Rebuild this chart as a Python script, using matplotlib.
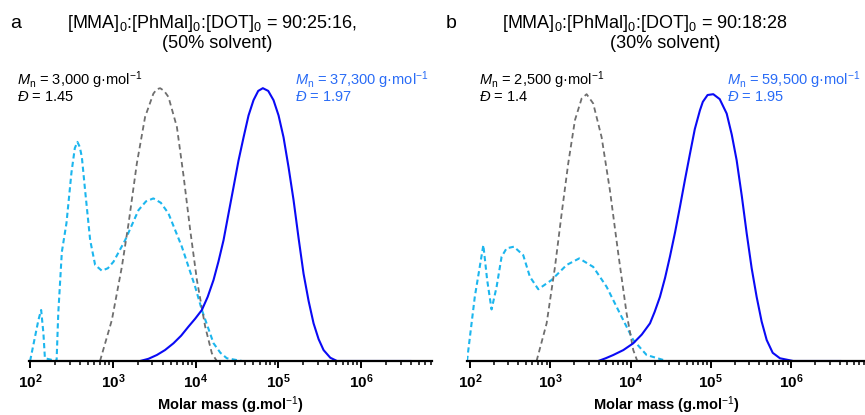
import matplotlib
matplotlib.use('Agg')
import matplotlib.pyplot as plt
from matplotlib.ticker import LogLocator, FixedLocator, FixedFormatter, NullFormatter

plt.rcParams['font.family'] = ['Liberation Sans', 'DejaVu Sans']
plt.rcParams['mathtext.fontset'] = 'custom'
plt.rcParams['mathtext.rm'] = 'Liberation Sans'
plt.rcParams['mathtext.it'] = 'Liberation Sans:italic'
plt.rcParams['mathtext.bf'] = 'Liberation Sans:bold'

# panel a (molar mass in g/mol, normalised signal)
a_cyan_m = [100, 126, 136, 145, 151, 209, 219, 242, 275, 316, 347, 373, 398, 422, 462,
            532, 611, 736, 871, 1019, 1409, 2042, 2512, 3090, 3802, 4699, 6823, 9886,
            11912, 16482, 19953, 23878, 36308]
a_cyan_h = [0, 0.15, 0.187, 0.10, 0.01, 0, 0.175, 0.40, 0.505, 0.69, 0.78, 0.803, 0.785, 0.748, 0.626,
            0.443, 0.352, 0.331, 0.34, 0.364, 0.443, 0.553, 0.585, 0.596, 0.58, 0.541, 0.419, 0.272,
            0.187, 0.065, 0.03, 0.01, 0]
a_gray_m = [700, 973, 1285, 1549, 1950, 2455, 3090, 3388, 3733, 4169, 4699, 5943, 7145, 8610,
            10375, 13062, 15740, 18072, 28184]
a_gray_h = [0, 0.15, 0.345, 0.504, 0.724, 0.895, 0.98, 0.996, 1.0, 0.99, 0.968, 0.858, 0.68, 0.48,
            0.297, 0.126, 0.028, 0, 0]
a_blue_m = [2138, 2692, 3404, 4266, 5408, 6699, 8204, 9886, 11912, 14000,
            16482, 18920, 21777, 25000, 28774, 33040, 38019, 43650, 50119, 57150,
            65013, 75510, 87498, 100700, 115611, 133000, 152757, 175800, 201837, 232300,
            266686, 306900, 352371, 424600, 511682, 3935501]
a_blue_h = [0, 0.008, 0.022, 0.04, 0.065, 0.093, 0.126, 0.155, 0.187, 0.235,
            0.297, 0.365, 0.443, 0.54, 0.638, 0.735, 0.82, 0.90, 0.956, 0.99,
            1.0, 0.99, 0.956, 0.90, 0.82, 0.71, 0.59, 0.45, 0.32, 0.22,
            0.138, 0.08, 0.04, 0.012, 0, 0]

# panel b
b_cyan_m = [92, 115, 147, 164, 186, 215, 248, 286, 353, 461, 558, 710, 1040, 1600, 2296,
            3428, 5035, 7379, 10814, 15849, 28184]
b_cyan_h = [0, 0.235, 0.425, 0.297, 0.189, 0.272, 0.382, 0.413, 0.419, 0.388, 0.309, 0.263,
            0.297, 0.352, 0.376, 0.345, 0.272, 0.174, 0.077, 0.022, 0]
b_gray_m = [676, 902, 1146, 1387, 1675, 2032, 2460, 2838, 3428, 4365, 5534, 7031, 8933,
            10814, 12134, 30903]
b_gray_h = [0, 0.138, 0.345, 0.54, 0.724, 0.883, 0.962, 0.978, 0.944, 0.82, 0.626, 0.394,
            0.174, 0.04, 0, 0]
b_blue_m = [3963, 4898, 6095, 8128, 10814, 13804, 17458, 19953, 23227, 26915,
            30903, 35728, 41210, 47643, 54954, 63096, 73114, 79433, 91000, 107152,
            128825, 157398, 181970, 209411, 242661, 279254, 322107, 371535, 428549, 495450,
            588844, 724436, 1061696, 4073803]
b_blue_h = [0, 0.01, 0.022, 0.04, 0.065, 0.097, 0.138, 0.18, 0.235, 0.305,
            0.382, 0.47, 0.565, 0.665, 0.76, 0.85, 0.919, 0.95, 0.975, 0.978,
            0.96, 0.907, 0.83, 0.736, 0.605, 0.468, 0.34, 0.235, 0.145, 0.077,
            0.03, 0.01, 0, 0]

tick_vals = [1e2, 1e3, 1e4, 1e5, 1e6]
tick_labels = [r'$\mathbf{10^{2}}$', r'$\mathbf{10^{3}}$', r'$\mathbf{10^{4}}$',
               r'$\mathbf{10^{5}}$', r'$\mathbf{10^{6}}$']

BLUE = '#0a0af5'
BLUE_TXT = '#2a6cf6'
CYAN = '#1cb6ee'
GRAY = '#6e6e6e'

panels = [
    dict(rect=[29 / 865, 54 / 415, 403 / 865, 281 / 415], xlim=(97, 7.2e6),
         cyan=(a_cyan_m, a_cyan_h), gray=(a_gray_m, a_gray_h), blue=(a_blue_m, a_blue_h),
         letter='a', lx=10, t1='[MMA]$_0$:[PhMal]$_0$:[DOT]$_0$ = 90:25:16,', t1x=212,
         t2='(50% solvent)', t2x=217,
         k1=(17, '3,000', '1.45'), k2=(295, '37,300', '1.97')),
    dict(rect=[467 / 865, 54 / 415, 398 / 865, 281 / 415], xlim=(92, 8.3e6),
         cyan=(b_cyan_m, b_cyan_h), gray=(b_gray_m, b_gray_h), blue=(b_blue_m, b_blue_h),
         letter='b', lx=446, t1='[MMA]$_0$:[PhMal]$_0$:[DOT]$_0$ = 90:18:28', t1x=645,
         t2='(30% solvent)', t2x=665,
         k1=(479, '2,500', '1.4'), k2=(727, '59,500', '1.95')),
]

fig = plt.figure(figsize=(8.65, 4.15), dpi=100)

for p in panels:
    ax = fig.add_axes(p['rect'])
    ax.plot(*p['cyan'], color=CYAN, lw=1.5, ls=(0, (2.5, 1.6)))
    ax.plot(*p['gray'], color=GRAY, lw=1.3, ls=(0, (3, 2)))
    ax.plot(*p['blue'], color=BLUE, lw=1.5)
    ax.set_xscale('log')
    ax.set_xlim(*p['xlim'])
    ax.set_ylim(0, 1.03)
    for s in ['left', 'right', 'top']:
        ax.spines[s].set_visible(False)
    ax.spines['bottom'].set_linewidth(1.6)
    ax.set_yticks([])
    ax.xaxis.set_major_locator(FixedLocator(tick_vals))
    ax.xaxis.set_major_formatter(FixedFormatter(tick_labels))
    ax.xaxis.set_minor_locator(LogLocator(base=10, subs=range(2, 10), numticks=20))
    ax.xaxis.set_minor_formatter(NullFormatter())
    ax.tick_params(axis='x', which='major', length=5, width=1.4, labelsize=11, pad=3)
    ax.tick_params(axis='x', which='minor', length=3, width=1.1)
    ax.set_xlabel('Molar mass (g.mol$^{-1}$)', fontsize=10.5, fontweight='bold', labelpad=3)

    fig.text(p['lx'] / 865, 1 - 28 / 415, p['letter'], fontsize=14, ha='left', va='baseline')
    fig.text(p['t1x'] / 865, 1 - 28 / 415, p['t1'], fontsize=13, ha='center', va='baseline')
    fig.text(p['t2x'] / 865, 1 - 48 / 415, p['t2'], fontsize=13, ha='center', va='baseline')

    x1, mn1, d1 = p['k1']
    fig.text(x1 / 865, 1 - 85 / 415, r'$M_{\mathrm{n}}$ = ' + mn1 + r' g·mol$^{-1}$',
             fontsize=10.5, color='black', va='baseline')
    fig.text(x1 / 865, 1 - 101 / 415, r'$\mathit{Đ}$ = ' + d1,
             fontsize=10.5, color='black', va='baseline')
    x2, mn2, d2 = p['k2']
    fig.text(x2 / 865, 1 - 85 / 415, r'$M_{\mathrm{n}}$ = ' + mn2 + r' g·mol$^{-1}$',
             fontsize=10.5, color=BLUE_TXT, va='baseline')
    fig.text(x2 / 865, 1 - 101 / 415, r'$\mathit{Đ}$ = ' + d2,
             fontsize=10.5, color=BLUE_TXT, va='baseline')

fig.savefig('out.png', dpi=100)
